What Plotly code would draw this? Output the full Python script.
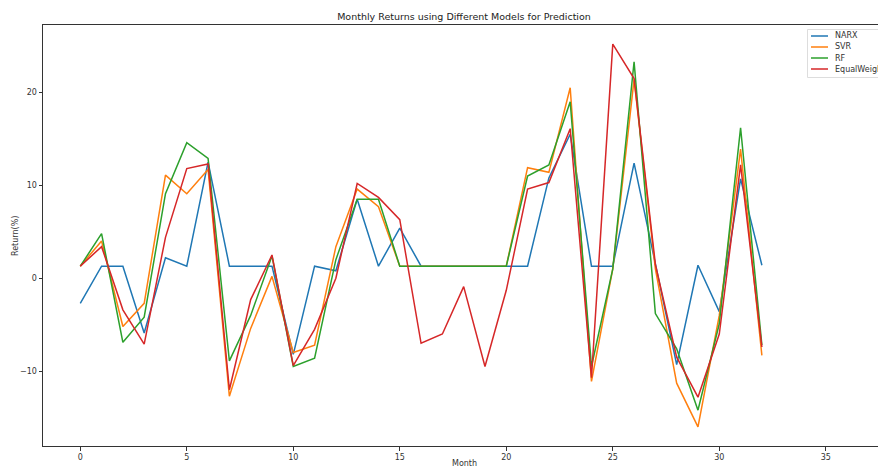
import plotly.graph_objects as go

months = list(range(33))

narx = [-2.7, 1.3, 1.3, -5.9, 2.2, 1.3, 12.5, 1.3, 1.3, 1.3, -8.2, 1.3, 0.8, 8.5, 1.3, 5.4,
        1.3, 1.3, 1.3, 1.3, 1.3, 1.3, 10.8, 15.5, 1.3, 1.3, 12.4, 1.6, -9.3, 1.4, -3.6, 10.7, 1.4]
svr = [1.3, 4.0, -5.2, -2.7, 11.1, 9.1, 11.7, -12.7, -5.4, 0.2, -8.0, -7.2, 3.4, 9.6, 7.7, 1.3,
       1.3, 1.3, 1.3, 1.3, 1.3, 11.9, 11.4, 20.5, -11.1, 1.0, 21.4, 1.0, -11.3, -16.0, -4.0, 13.9, -8.3]
rf = [1.3, 4.8, -6.9, -4.2, 9.1, 14.6, 12.9, -8.9, -4.0, 2.4, -9.5, -8.6, 2.0, 8.5, 8.5, 1.3,
      1.3, 1.3, 1.3, 1.3, 1.3, 11.0, 12.2, 19.0, -9.5, 1.0, 23.3, -3.8, -7.6, -14.2, -4.9, 16.2, -7.2]
equal_weight = [1.3, 3.4, -3.4, -7.1, 4.4, 11.8, 12.3, -12.0, -2.3, 2.5, -9.4, -5.5, 0.0, 10.2, 8.7, 6.3,
                -7.0, -6.0, -0.9, -9.5, -1.3, 9.6, 10.3, 16.1, -10.7, 25.2, 21.5, 1.5, -8.5, -12.8, -6.0, 12.2, -7.4]

series_names = ["NARX", "SVR", "RF", "EqualWeight"]
series_values = [narx, svr, rf, equal_weight]
colors = ["#1f77b4", "#ff7f0e", "#2ca02c", "#d62728"]

x_ticks = [0, 5, 10, 15, 20, 25, 30, 35]
y_ticks = [-10, 0, 10, 20]

W, H = 878, 466
L, R, T, B = 43, 0, 25, 20
PW, PH = W - L - R, H - T - B

def px_x(p):
    return (p - L) / PW

def px_y(p):
    return (H - B - p) / PH

fig = go.Figure()
for name, vals, c in zip(series_names, series_values, colors):
    fig.add_trace(go.Scatter(x=months, y=vals, mode="lines", name=name,
                             line=dict(color=c, width=1.5), showlegend=False))

font = "DejaVu Sans, sans-serif"
axis_col = "#333333"

fig.update_layout(
    width=W, height=H,
    margin=dict(l=L, r=R, t=T, b=B),
    paper_bgcolor="white", plot_bgcolor="white",
    font=dict(family=font, size=8, color="#333333"),
    title=dict(text="Monthly Returns using Different Models for Prediction",
               x=464 / W, xref="container", xanchor="center",
               y=1 - 17 / H, yref="container", yanchor="middle",
               font=dict(family=font, size=9.5, color="#222222")),
    xaxis=dict(range=[-1.75, -1.75 + PW / 21.3], tickvals=x_ticks, ticks="outside",
               ticklen=3.5, tickcolor=axis_col, showgrid=False, zeroline=False,
               showline=True, linecolor=axis_col, linewidth=1, mirror=True,
               tickfont=dict(size=8, color="#333333")),
    yaxis=dict(range=[-18.06, 27.26], tickvals=y_ticks, ticks="outside",
               ticklen=3.5, tickcolor=axis_col, showgrid=False, zeroline=False,
               showline=True, linecolor=axis_col, linewidth=1, mirror=False,
               tickfont=dict(size=8, color="#333333")),
)

annotations = [
    dict(text="Return(%)", x=px_x(15), y=px_y(236), xref="paper", yref="paper",
         textangle=-90, showarrow=False, font=dict(size=8, color="#333333"),
         xanchor="center", yanchor="middle"),
    dict(text="Month", x=px_x(464), y=px_y(464), xref="paper", yref="paper",
         showarrow=False, font=dict(size=8, color="#333333"),
         xanchor="center", yanchor="middle"),
]

# custom legend (matplotlib style)
shapes = [dict(type="rect", xref="paper", yref="paper",
               x0=px_x(807.5), x1=px_x(900), y0=px_y(77.5), y1=px_y(29.5),
               line=dict(color="#dddddd", width=1), fillcolor="white", layer="above")]
entry_y = [36, 47, 58, 69]
for name, c, ey in zip(series_names, colors, entry_y):
    shapes.append(dict(type="line", xref="paper", yref="paper",
                       x0=px_x(811), x1=px_x(828), y0=px_y(ey), y1=px_y(ey),
                       line=dict(color=c, width=1.5), layer="above"))
    annotations.append(dict(text=name, x=px_x(833), y=px_y(ey), xref="paper", yref="paper",
                            showarrow=False, xanchor="left", yanchor="middle",
                            font=dict(size=8, color="#333333")))

fig.update_layout(shapes=shapes, annotations=annotations)
fig.write_html("out.html")
